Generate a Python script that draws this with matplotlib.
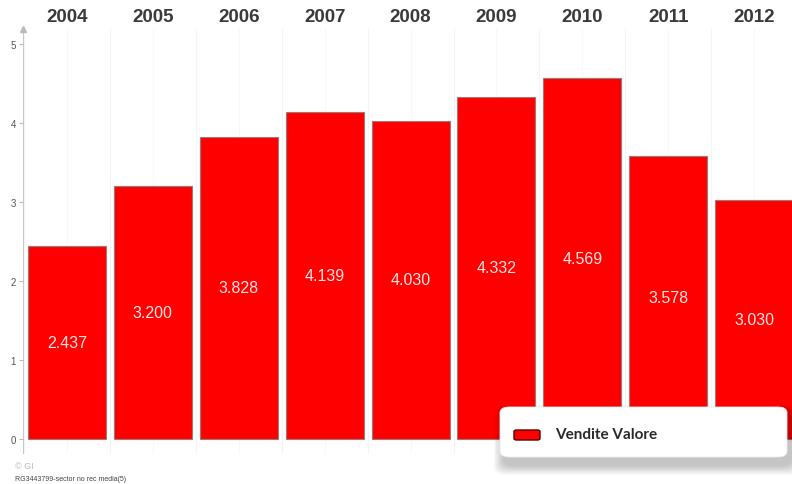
import numpy as np
import matplotlib
matplotlib.use('Agg')
import matplotlib.pyplot as plt
from matplotlib.patches import FancyBboxPatch, Rectangle

plt.rcParams['font.family'] = ['Liberation Sans', 'DejaVu Sans']

# Dati vendite per anno
anni = ['2004', '2005', '2006', '2007', '2008', '2009', '2010', '2011', '2012']
vendite = [2.437, 3.200, 3.828, 4.139, 4.030, 4.332, 4.569, 3.578, 3.030]
etichette = ['2.437', '3.200', '3.828', '4.139', '4.030', '4.332', '4.569', '3.578', '3.030']
y_ticks = [0, 1, 2, 3, 4, 5]

W, H = 792, 485
fig = plt.figure(figsize=(W / 100, H / 100), dpi=100)
fig.patch.set_facecolor('white')

# area del grafico: asse y a x=23px, zero a y=440px
ax = fig.add_axes([23 / W, 30 / H, 1 - 23 / W, (455 - 30) / H])
x = np.arange(len(anni))
ax.set_xlim(-0.512, 8.44)
ax.set_ylim(-0.19, 5.19)

# griglia verticale leggera
for xi in x:
    ax.axvline(xi - 0.5, color='#f4f4f4', lw=0.8, zorder=0)
    ax.axvline(xi, color='#f8f8f8', lw=0.8, zorder=0)

ax.bar(x, vendite, width=0.908, color='#ff0000', edgecolor='#9a7a7a', linewidth=0.8, zorder=2)

for xi, v, lab in zip(x, vendite, etichette):
    ax.text(xi, v / 2, lab, ha='center', va='center', color='#ffe4e4', fontsize=11.5, zorder=3)

# asse y con freccia
for s in ax.spines.values():
    s.set_visible(False)
ax.axvline(-0.512, color='#bbbbbb', lw=1.2, zorder=1)
ax.plot([-0.512], [5.19], marker='^', color='#bbbbbb', markersize=4, clip_on=False, zorder=1)
ax.set_xticks([])
ax.set_yticks(y_ticks)
ax.tick_params(axis='y', length=3, width=0.8, color='#bbbbbb', labelsize=7, labelcolor='#555555', pad=2)

# anni in alto
for xi, anno in zip(x, anni):
    px = (67 + 85.9 * xi) / W
    fig.text(px, 1 - 18 / H, anno, ha='center', va='center', fontsize=13.5,
             fontweight='bold', color='#3a3a3a')

# legenda con ombra sfumata
for i in range(10):
    grow = 10 - i
    fig.patches.append(FancyBboxPatch(((504 - grow) / W, (H - 466 - grow) / H),
                                      (287 + 2 * grow) / W, (50 + 2 * grow) / H,
                                      boxstyle='round,pad=0,rounding_size=0.015',
                                      transform=fig.transFigure, facecolor='black',
                                      edgecolor='none', alpha=0.025, zorder=5))
fig.patches.append(FancyBboxPatch((500 / W, (H - 458) / H), 287 / W, 50 / H,
                                  boxstyle='round,pad=0,rounding_size=0.012',
                                  transform=fig.transFigure, facecolor='white',
                                  edgecolor='#eeeeee', lw=0.6, zorder=6))
fig.patches.append(FancyBboxPatch((514 / W, (H - 441) / H), 26 / W, 10 / H,
                                  boxstyle='round,pad=0,rounding_size=0.003',
                                  transform=fig.transFigure, facecolor='#ff0000',
                                  edgecolor='#550000', lw=1.0, zorder=7))
fig.text(555 / W, 1 - 435 / H, 'Vendite Valore', ha='left', va='center', fontsize=11,
         fontweight='bold', color='#2a2a2a', family=['Lato', 'DejaVu Sans'], zorder=8)

# note in basso
fig.text(15 / W, 1 - 467 / H, '© GI', ha='left', va='center', fontsize=6.5, color='#bbbbbb')
fig.text(15 / W, 1 - 480 / H, 'RG3443799-sector no rec media(5)', ha='left', va='center',
         fontsize=5, color='#444444')

fig.savefig('out.png', dpi=100)
